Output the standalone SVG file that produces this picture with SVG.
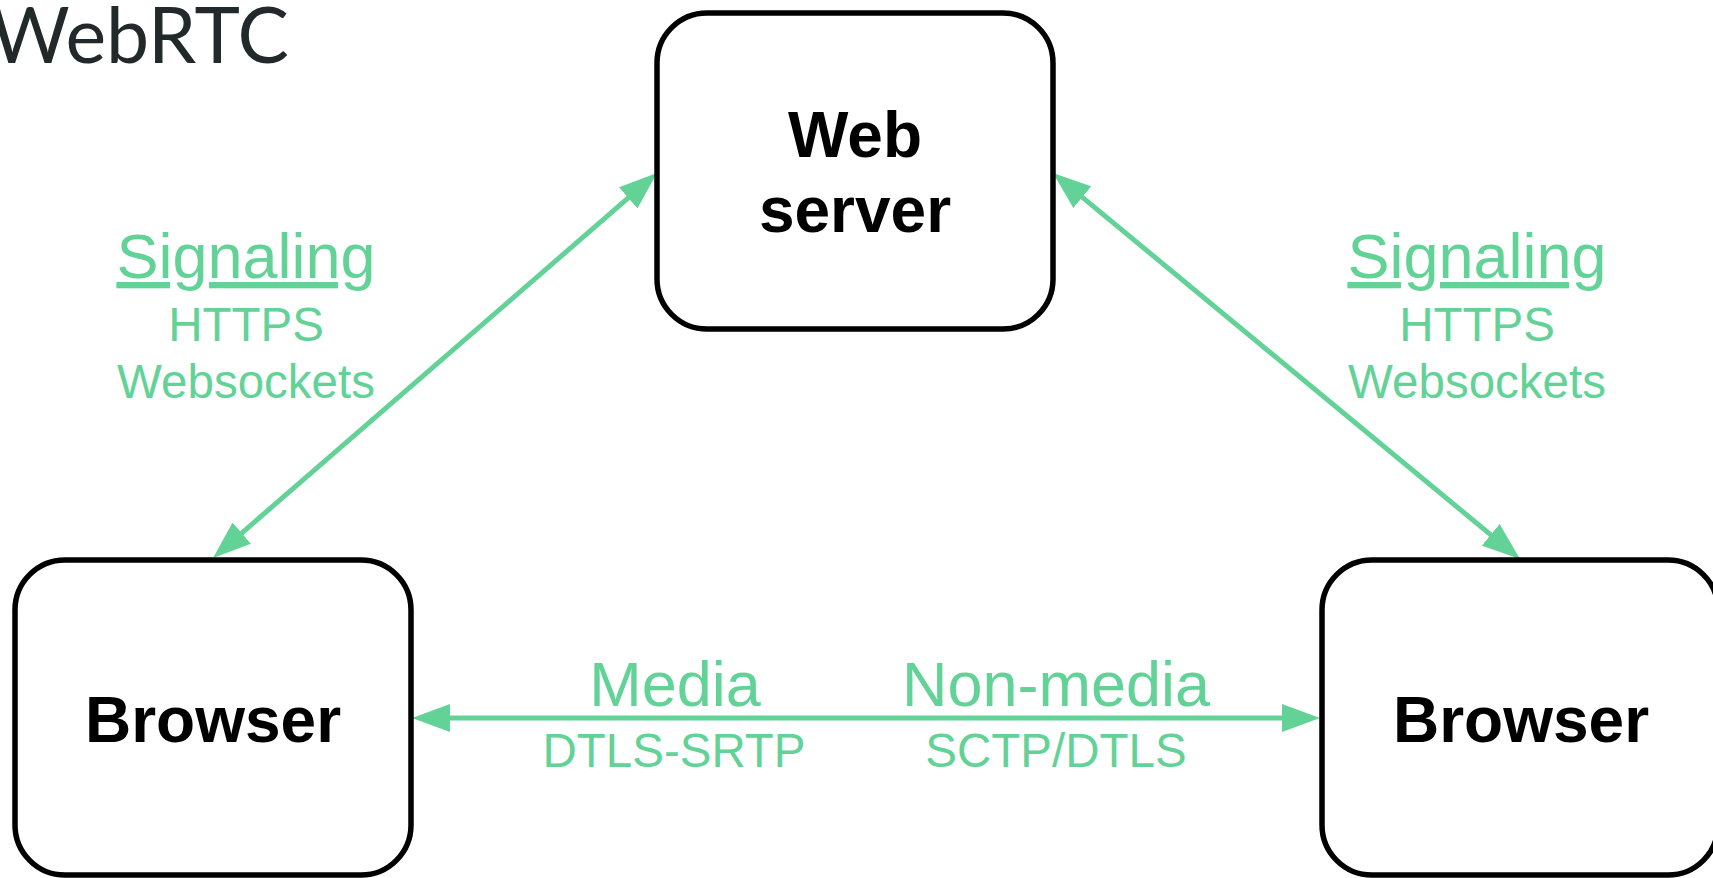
<svg xmlns="http://www.w3.org/2000/svg" width="1713" height="878" viewBox="0 0 1713 878">
<style>
.node{fill:#fff;stroke:#000;stroke-width:5.5}
.nt{font-family:"Liberation Sans",Arial,sans-serif;font-weight:bold;font-size:64px;fill:#000;text-anchor:middle}
.conn{stroke:#63d297;stroke-width:5;fill:none}
.lbl{font-family:"Liberation Sans",Arial,sans-serif;fill:#63d297;text-anchor:middle}
.big{font-size:63px}
.small{font-size:47.5px}
.title{font-family:Lato,"Open Sans",sans-serif;font-weight:400;font-size:77px;fill:#21292b}
</style>
<defs>
<marker id="ah" markerUnits="userSpaceOnUse" markerWidth="38" markerHeight="28" viewBox="0 0 38 28" refX="8" refY="14" orient="auto-start-reverse">
<path d="M0,0 L38,14 L0,28 z" fill="#63d297"/>
</marker>
</defs>
<text class="title" x="289" y="63" text-anchor="end">WebRTC</text>
<g id="connectors">
<line class="conn" x1="235.7" y1="538.3" x2="634.3" y2="192.7" marker-start="url(#ah)" marker-end="url(#ah)"/>
<line class="conn" x1="1076.1" y1="192.1" x2="1496.9" y2="539.9" marker-start="url(#ah)" marker-end="url(#ah)"/>
<line class="conn" x1="442" y1="718" x2="1290" y2="718" marker-start="url(#ah)" marker-end="url(#ah)"/>
</g>
<g id="labels">
<text class="lbl big" x="246" y="278" text-decoration="underline">Signaling</text>
<text class="lbl small" x="246" y="341">HTTPS</text>
<text class="lbl small" x="246" y="398">Websockets</text>
<text class="lbl big" x="1477" y="278" text-decoration="underline">Signaling</text>
<text class="lbl small" x="1477" y="341">HTTPS</text>
<text class="lbl small" x="1477" y="398">Websockets</text>
<text class="lbl big" x="675" y="706">Media</text>
<text class="lbl big" x="1056" y="706">Non-media</text>
<text class="lbl small" x="674" y="767">DTLS-SRTP</text>
<text class="lbl small" x="1056" y="767">SCTP/DTLS</text>
</g>
<g id="web-server">
<rect class="node" x="657" y="13" width="396" height="316" rx="50"/>
<text class="nt" x="855" y="157">Web</text>
<text class="nt" x="855" y="232">server</text>
</g>
<g id="browser-left">
<rect class="node" x="15" y="560" width="396" height="315" rx="50"/>
<text class="nt" x="213" y="742">Browser</text>
</g>
<g id="browser-right">
<rect class="node" x="1322" y="560" width="396" height="315" rx="50"/>
<text class="nt" x="1521" y="742">Browser</text>
</g>
</svg>
